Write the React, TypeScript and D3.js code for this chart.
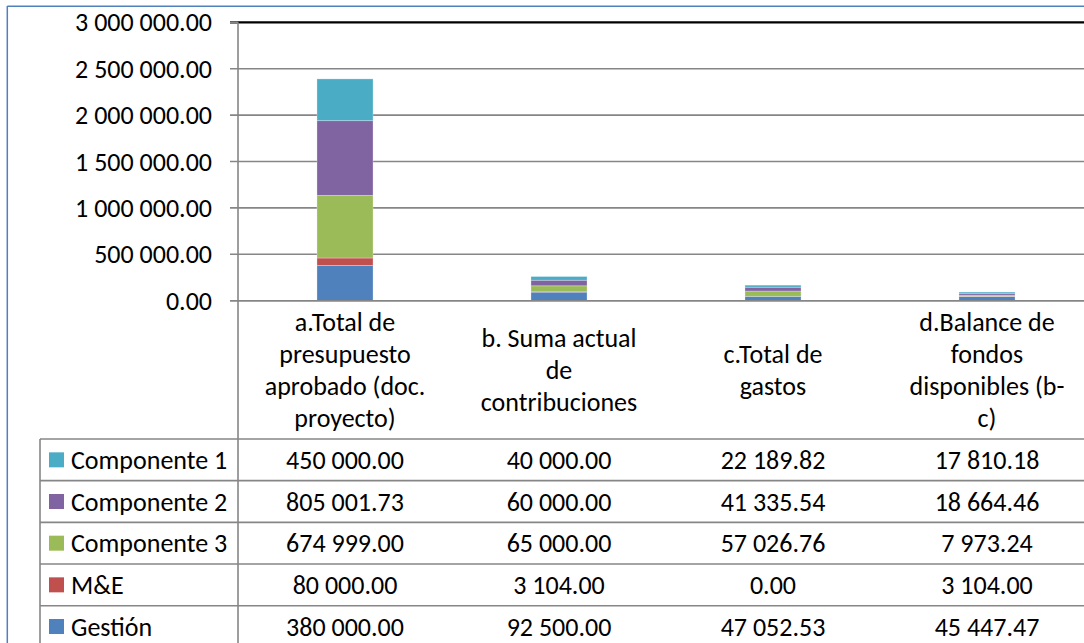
import React from "react";
import * as d3 from "d3";

const categoryKeys = ["a", "b", "c", "d"];
const categoryLines: string[][] = [
  ["a.Total de", "presupuesto", "aprobado (doc.", "proyecto)"],
  ["b. Suma actual", "de", "contribuciones"],
  ["c.Total de", "gastos"],
  ["d.Balance de", "fondos", "disponibles (b-", "c)"],
];

// table order (top to bottom)
const seriesNames = ["Componente 1", "Componente 2", "Componente 3", "M&E", "Gestión"];
const seriesColors = ["#4BACC6", "#8064A2", "#9BBB59", "#C0504D", "#4F81BD"];

const componente1 = [450000.0, 40000.0, 22189.82, 17810.18];
const componente2 = [805001.73, 60000.0, 41335.54, 18664.46];
const componente3 = [674999.0, 65000.0, 57026.76, 7973.24];
const mye = [80000.0, 3104.0, 0.0, 3104.0];
const gestion = [380000.0, 92500.0, 47052.53, 45447.47];
const seriesValues = [componente1, componente2, componente3, mye, gestion];

const yTicks = [0, 500000, 1000000, 1500000, 2000000, 2500000, 3000000];

const locale = d3.formatLocale({
  decimal: ".",
  thousands: " ",
  grouping: [3],
  currency: ["", ""],
});
const fmt = locale.format(",.2f");

const FONT = "Carlito, Calibri, Lato, sans-serif";
const FS = 26;

export default function App() {
  const W = 1084;
  const H = 643;
  const plotLeft = 238;
  const plotRight = 1094;
  const yTop = 22.3;
  const yZero = 300.7;
  const tableTop = 439;
  const rowH = 41.67;
  const tableLeft = 40;

  const x = d3
    .scaleBand<string>()
    .domain(categoryKeys)
    .range([plotLeft, plotRight])
    .paddingInner(0.738)
    .paddingOuter(0.369);
  const xCol = d3.scaleBand<string>().domain(categoryKeys).range([plotLeft, plotRight]).padding(0);
  const y = d3.scaleLinear().domain([0, 3000000]).range([yZero, yTop]);

  // stack from bottom: Gestión, M&E, Comp 3, Comp 2, Comp 1
  const stackOrder = [4, 3, 2, 1, 0];
  const rows = categoryKeys.map((k, ci) => {
    const o: any = { key: k };
    seriesNames.forEach((s, si) => (o[s] = seriesValues[si][ci]));
    return o;
  });
  const stack = d3.stack<any>().keys(stackOrder.map((i) => seriesNames[i]));
  const stacked = stack(rows);

  const colCenter = (k: string) => (xCol(k) as number) + xCol.bandwidth() / 2;
  const gridColor = "#868686";

  return (
    <svg
      width={W}
      height={H}
      style={{ position: "absolute", left: 0, top: 0, background: "#fff" }}
      fontFamily={FONT}
    >
      <rect x={0} y={0} width={W} height={H} fill="#fff" />
      {/* outer chart border */}
      <line x1={7.3} y1={6} x2={7.3} y2={H} stroke="#4F81BD" strokeWidth={1.5} />
      <line x1={7.3} y1={6.3} x2={W} y2={6.3} stroke="#4F81BD" strokeWidth={1.5} />

      {/* gridlines */}
      {yTicks.map((t) => (
        <g key={t}>
          <line
            x1={230}
            x2={W}
            y1={y(t)}
            y2={y(t)}
            stroke={t === 3000000 ? "#000" : gridColor}
            strokeWidth={t === 3000000 ? 2.2 : 1.6}
          />
          {t === 3000000 && (
            <line x1={230} x2={plotLeft} y1={y(t)} y2={y(t)} stroke={gridColor} strokeWidth={1.6} />
          )}
          <text x={212} y={y(t)} dy="0.35em" textAnchor="end" fontSize={FS} fill="#000">
            {fmt(t)}
          </text>
        </g>
      ))}

      {/* bars */}
      {stacked.map((layer) => {
        const si = seriesNames.indexOf(layer.key);
        return (
          <g key={layer.key} fill={seriesColors[si]}>
            {layer.map((d, ci) => {
              const h = y(d[0]) - y(d[1]);
              if (h <= 0) return null;
              return (
                <rect
                  key={ci}
                  x={x(categoryKeys[ci])}
                  y={y(d[1])}
                  width={x.bandwidth()}
                  height={h}
                  stroke="rgba(255,255,255,0.35)"
                  strokeWidth={0.8}
                />
              );
            })}
          </g>
        );
      })}

      {/* x axis line */}
      <line x1={230} x2={W} y1={yZero} y2={yZero} stroke={gridColor} strokeWidth={1.6} />
      {/* y axis line extended through table */}
      <line x1={plotLeft} x2={plotLeft} y1={yTop} y2={H} stroke={gridColor} strokeWidth={1.6} />

      {/* category labels */}
      {categoryKeys.map((k, ci) => {
        const lines = categoryLines[ci];
        const mid = (yZero + tableTop) / 2;
        const lh = 32;
        const start = mid - ((lines.length - 1) * lh) / 2;
        return (
          <text key={k} textAnchor="middle" fontSize={FS} fill="#000">
            {lines.map((ln, li) => (
              <tspan key={li} x={colCenter(k)} y={start + li * lh} dy="0.35em">
                {ln}
              </tspan>
            ))}
          </text>
        );
      })}

      {/* table */}
      {seriesNames.map((s, si) => {
        const top = tableTop + si * rowH;
        const cy = top + rowH / 2;
        return (
          <g key={s}>
            <line x1={tableLeft} x2={W} y1={top} y2={top} stroke={gridColor} strokeWidth={1.6} />
            <rect x={49} y={cy - 7.5} width={15} height={15} fill={seriesColors[si]} />
            <text x={71} y={cy} dy="0.35em" fontSize={FS} fill="#000">
              {s}
            </text>
            {categoryKeys.map((k, ci) => (
              <text key={k} x={colCenter(k)} y={cy} dy="0.35em" textAnchor="middle" fontSize={FS} fill="#000">
                {fmt(seriesValues[si][ci])}
              </text>
            ))}
          </g>
        );
      })}
      <line
        x1={tableLeft}
        x2={W}
        y1={tableTop + seriesNames.length * rowH}
        y2={tableTop + seriesNames.length * rowH}
        stroke={gridColor}
        strokeWidth={1.6}
      />
      <line x1={tableLeft} x2={tableLeft} y1={tableTop} y2={H} stroke={gridColor} strokeWidth={1.6} />
    </svg>
  );
}
